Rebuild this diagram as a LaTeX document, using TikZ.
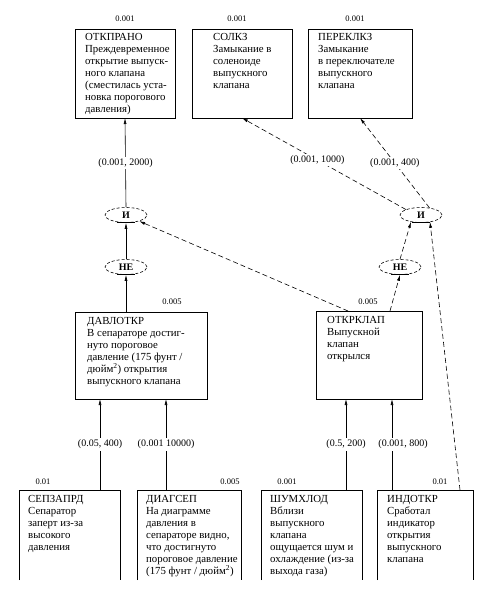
\documentclass[tikz,border=0pt]{standalone}
\usepackage{fontspec}
\setmainfont{Liberation Serif}
\usetikzlibrary{shapes.geometric,arrows.meta,calc}
\begin{document}
\begin{tikzpicture}[x=1pt,y=-1pt,
  box/.style 2 args={draw, line width=0.8pt, minimum width=#1, minimum height=#2, inner sep=0pt, outer sep=0pt, anchor=north west},
  obox/.style 2 args={draw=none, minimum width=#1, minimum height=#2, inner sep=0pt, outer sep=0pt, anchor=north west},
  txt/.style={anchor=north west, inner sep=0pt, align=left, font=\fontsize{10.8}{12}\selectfont},
  prob/.style={inner sep=0pt, font=\fontsize{8.5}{8.5}\selectfont},
  lab/.style={fill=white, inner sep=1.5pt, font=\fontsize{10}{10}\selectfont},
  gate/.style={ellipse, draw, dash pattern=on 3pt off 2pt, line width=0.6pt, minimum width=42, minimum height=15, inner sep=0pt, font=\bfseries\fontsize{10}{10}\selectfont},
  arr/.style={line width=0.6pt, -{Latex[length=6pt,width=3pt]}},
  dsh/.style={dash pattern=on 5pt off 3pt}
]
\fill[white] (0,0) rectangle (492,600);
\useasboundingbox (0,0) rectangle (492,600);

% top boxes
\node[box={100}{89}] (b1) at (75,29) {};
\node[box={100}{89}] (b2) at (192,29) {};
\node[box={104}{89}] (b3) at (308,29) {};
\node[txt] (t1) at ($(b1.north west)+(10,4)$) {ОТКПРАНО\\Преждевременное\\открытие выпуск-\\ного клапана\\(сместилась уста-\\новка порогового\\давления)};
\node[txt] (t2) at ($(b2.north west)+(21,4)$) {СОЛКЗ\\Замыкание в\\соленоиде\\выпускного\\клапана};
\node[txt] (t3) at ($(b3.north west)+(10,4)$) {ПЕРЕКЛКЗ\\Замыкание\\в переключателе\\выпускного\\клапана};
\node[prob] (p1) at (125,19) {0.001};
\node[prob] (p2) at (237,19) {0.001};
\node[prob] (p3) at (355,19) {0.001};

% middle boxes
\node[box={132}{87}] (b4) at (75,312) {};
\node[box={106}{88}] (b5) at (316,311) {};
\node[txt] (t4) at ($(b4.north west)+(12,5)$) {ДАВЛОТКР\\В сепараторе достиг-\\нуто пороговое\\давление (175 фунт /\\дюйм\textsuperscript{2}) открытия\\выпускного клапана};
\node[txt] (t5) at ($(b5.north west)+(11,5)$) {ОТКРКЛАП\\Выпускной\\клапан\\открылся};
\node[prob] (p4) at (172,302) {0.005};
\node[prob] (p5) at (368,302) {0.005};

% bottom boxes (open at the bottom)
\node[obox={101}{90}] (b6) at (19,490) {};
\node[obox={104}{90}] (b7) at (137,490) {};
\node[obox={101}{90}] (b8) at (261,490) {};
\node[obox={96}{90}] (b9) at (377,490) {};
\foreach \b in {b6,b7,b8,b9}{
  \draw[line width=0.8pt] (\b.south west) |- (\b.north east) -- (\b.south east);
}
\node[txt] (t6) at ($(b6.north west)+(9,5)$) {СЕПЗАПРД\\Сепаратор\\заперт из-за\\высокого\\давления};
\node[txt] (t7) at ($(b7.north west)+(9,5)$) {ДИАГСЕП\\На диаграмме\\давления в\\сепараторе видно,\\что достигнуто\\пороговое давление\\(175 фунт / дюйм\textsuperscript{2})};
\node[txt] (t8) at ($(b8.north west)+(9,5)$) {ШУМХЛОД\\Вблизи\\выпускного\\клапана\\ощущается шум и\\охлаждение (из-за\\выхода газа)};
\node[txt] (t9) at ($(b9.north west)+(10,5)$) {ИНДОТКР\\Сработал\\индикатор\\открытия\\выпускного\\клапана};
\node[prob] (p6) at (43,482) {0.01};
\node[prob] (p7) at (230,482) {0.005};
\node[prob] (p8) at (287,482) {0.001};
\node[prob] (p9) at (440,482) {0.01};

% gates
\node[gate] (g1) at (126,215) {И};
\node[gate] (n1) at (126,267) {НЕ};
\node[gate] (g2) at (421,215) {И};
\node[gate] (n2) at (400,267) {НЕ};
\foreach \g in {g1,n1,g2,n2}{
  \draw[line width=0.8pt] ($(\g.south)+(-9,-0.5)$) -- ($(\g.south)+(9,-0.5)$);
}

% left chain (solid)
\draw[arr] (b4.north -| n1.south) -- (n1.south);
\draw[arr] (n1.north) -- (g1.south);
\draw[arr] (g1.north) -- node[lab]{(0.001, 2000)} (b1.south);

% bottom inputs
\draw[arr] ($(b6.north west)+(81,0)$) -- node[lab]{(0.05, 400)} ($(b4.south west)+(25,0)$);
\draw[arr] ($(b7.north west)+(29,0)$) -- node[lab]{(0.001 10000)} ($(b4.south west)+(91,0)$);
\draw[arr] ($(b8.north west)+(85,0)$) -- node[lab]{(0.5, 200)} ($(b5.south west)+(30,0)$);
\draw[arr] ($(b9.north west)+(15,0)$) -- node[lab, xshift=11]{(0.001, 800)} ($(b5.south west)+(76,0)$);

% dashed connections
\draw[arr, dsh] ($(b5.north west)+(32,0)$) -- (g1.-25);
\draw[arr, dsh] ($(b5.north west)+(74,0)$) -- (n2.south);
\draw[arr, dsh] (n2.north) -- ($(g2.south)+(-10,-1)$);
\draw[arr, dsh] ($(b9.north west)+(83,0)$) -- ($(g2.south)+(9,-1)$);
\draw[arr, dsh] (g2.160) -- node[lab, pos=0.54]{(0.001, 1000)} (b2.south);
\draw[arr, dsh] (g2.40) -- node[lab]{(0.001, 400)} (b3.south);
\end{tikzpicture}
\end{document}
